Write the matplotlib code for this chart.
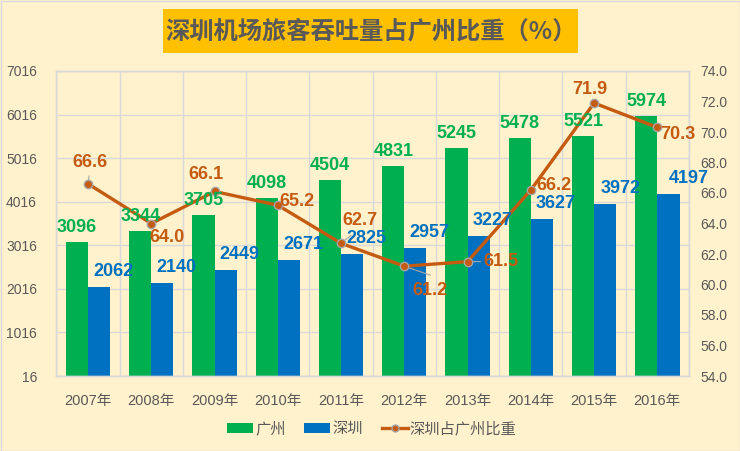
import matplotlib
matplotlib.use("Agg")
import matplotlib.pyplot as plt
from matplotlib.patches import Rectangle, Patch
from matplotlib.lines import Line2D
import numpy as np

years = ["2007年", "2008年", "2009年", "2010年", "2011年", "2012年", "2013年", "2014年", "2015年", "2016年"]
guangzhou = [3096, 3344, 3705, 4098, 4504, 4831, 5245, 5478, 5521, 5974]
shenzhen = [2062, 2140, 2449, 2671, 2825, 2957, 3227, 3627, 3972, 4197]
ratio = [66.6, 64.0, 66.1, 65.2, 62.7, 61.2, 61.5, 66.2, 71.9, 70.3]
left_ticks = [16, 1016, 2016, 3016, 4016, 5016, 6016, 7016]
right_ticks = [54, 56, 58, 60, 62, 64, 66, 68, 70, 72, 74]
title = "深圳机场旅客吞吐量占广州比重（%）"
legend_labels = ["广州", "深圳", "深圳占广州比重"]

# styles
BG = "#FFF2CC"
GREEN = "#00B050"
BLUE = "#0070C0"
ORANGE = "#C55A11"
TXT = "#595959"
GRID = "#D9D9D9"
NUM_FONT = ["Liberation Sans", "DejaVu Sans"]
CJK_FONT = ["Noto Sans CJK SC", "DejaVu Sans"]
MIX_FONT = ["Liberation Sans", "Noto Sans CJK SC", "DejaVu Sans"]

# label offsets (pixels) for the ratio labels and leader lines
ratio_offsets = [(2, 21), (16, -14), (-9, 17), (19, 4), (19, 23),
                 (26, -24), (33, 0), (23, 4), (-4, 14), (21, -7)]
leaders = {0: (1, 8), 4: (10, 8), 5: (26, -9), 6: (13, 0)}
blue_dx = [14, 14, 14, 14, 14, 14, 14, 14, 15, 20]

fig = plt.figure(figsize=(7.4, 4.51), dpi=100)
fig.patch.set_facecolor(BG)

W, H = 740, 451
ax = fig.add_axes([56.4 / W, 1 - 376 / H, (689 - 56.4) / W, (376 - 71) / H])
ax.set_facecolor(BG)
ax2 = ax.twinx()

x = np.arange(len(years))
bw = 0.35
ax.bar(x - bw / 2, guangzhou, bw, color=GREEN, zorder=2)
ax.bar(x + bw / 2, shenzhen, bw, color=BLUE, zorder=2)

ax.set_xlim(-0.5, len(years) - 0.5)
ax.set_ylim(16, 7016)
ax.set_yticks(left_ticks)
ax.set_yticklabels([str(v) for v in left_ticks], fontfamily=NUM_FONT, fontsize=10, color=TXT)
ax.set_xticks(x)
ax.set_xticklabels(years, fontfamily=MIX_FONT, fontsize=10.5, color=TXT)
ax.set_xticks(np.arange(-0.5, len(years), 1), minor=True)
ax.tick_params(axis="both", which="both", length=0)
ax.tick_params(axis="y", pad=14)
ax.tick_params(axis="x", pad=13)
ax.grid(axis="y", which="major", color=GRID, lw=1, zorder=0)
ax.grid(axis="x", which="minor", color=GRID, lw=1, zorder=0)
ax.set_axisbelow(True)

ax2.plot(x, ratio, color=ORANGE, lw=2.4, marker="o", ms=6, mfc=ORANGE, mec="#A6A6A6", mew=1, zorder=5)
ax2.set_ylim(54, 74)
ax2.set_yticks(right_ticks)
ax2.set_yticklabels([f"{v:.1f}" for v in right_ticks], fontfamily=NUM_FONT, fontsize=10, color=TXT)
ax2.tick_params(axis="y", length=0, pad=8)

for a in (ax, ax2):
    for s in a.spines.values():
        s.set_color(GRID)
        s.set_linewidth(1)

# bar labels
for i in range(len(years)):
    ax2.annotate(str(guangzhou[i]), xy=(x[i] - bw / 2, guangzhou[i]), xycoords=ax.transData,
                 xytext=(0, 10), textcoords="offset pixels", ha="center", va="baseline",
                 fontfamily=NUM_FONT, fontsize=13, fontweight="bold", color=GREEN, zorder=10)
    ax2.annotate(str(shenzhen[i]), xy=(x[i] + bw / 2, shenzhen[i]), xycoords=ax.transData,
                 xytext=(blue_dx[i], 11), textcoords="offset pixels", ha="center", va="baseline",
                 fontfamily=NUM_FONT, fontsize=13, fontweight="bold", color=BLUE, zorder=10)

# leader lines
for i, (dx, dy) in leaders.items():
    ax2.annotate("", xy=(x[i], ratio[i]), xytext=(dx, dy), textcoords="offset pixels",
                 arrowprops=dict(arrowstyle="-", color="#A6A6A6", lw=0.8, shrinkA=0, shrinkB=3),
                 zorder=4)

# ratio labels
for i in range(len(years)):
    dx, dy = ratio_offsets[i]
    ax2.annotate(f"{ratio[i]:.1f}", xy=(x[i], ratio[i]), xytext=(dx, dy), textcoords="offset pixels",
                 ha="center", va="center", fontfamily=NUM_FONT, fontsize=13, fontweight="bold",
                 color=ORANGE, zorder=10)

# title box
fig.patches.append(Rectangle((163 / W, 1 - 53 / H), 415 / W, 44 / H, transform=fig.transFigure,
                             facecolor="#FFC000", edgecolor="none", zorder=1))
fig.text(370.5 / W, 1 - 31 / H, title, ha="center", va="center", fontfamily=CJK_FONT,
         fontsize=17.5, fontweight="bold", color=TXT, zorder=2)

# legend
handles = [Patch(facecolor=GREEN, edgecolor="none"),
           Patch(facecolor=BLUE, edgecolor="none"),
           Line2D([0], [0], color=ORANGE, lw=2.4, marker="o", ms=5, mfc=ORANGE, mec="#A6A6A6")]
leg = fig.legend(handles, legend_labels, loc="center", bbox_to_anchor=(372 / W, 1 - 429 / H),
                 ncol=3, frameon=False, prop={"family": CJK_FONT, "size": 11},
                 handlelength=1.7, handleheight=0.65, handletextpad=0.15, columnspacing=1.2)
for t in leg.get_texts():
    t.set_color(TXT)

# figure border
fig.patches.append(Rectangle((0.5 / W, 0.5 / H), 1 - 1 / W, 1 - 1 / H, transform=fig.transFigure,
                             facecolor="none", edgecolor=GRID, lw=1, zorder=0))

fig.savefig("out.png", dpi=100, facecolor=BG)
